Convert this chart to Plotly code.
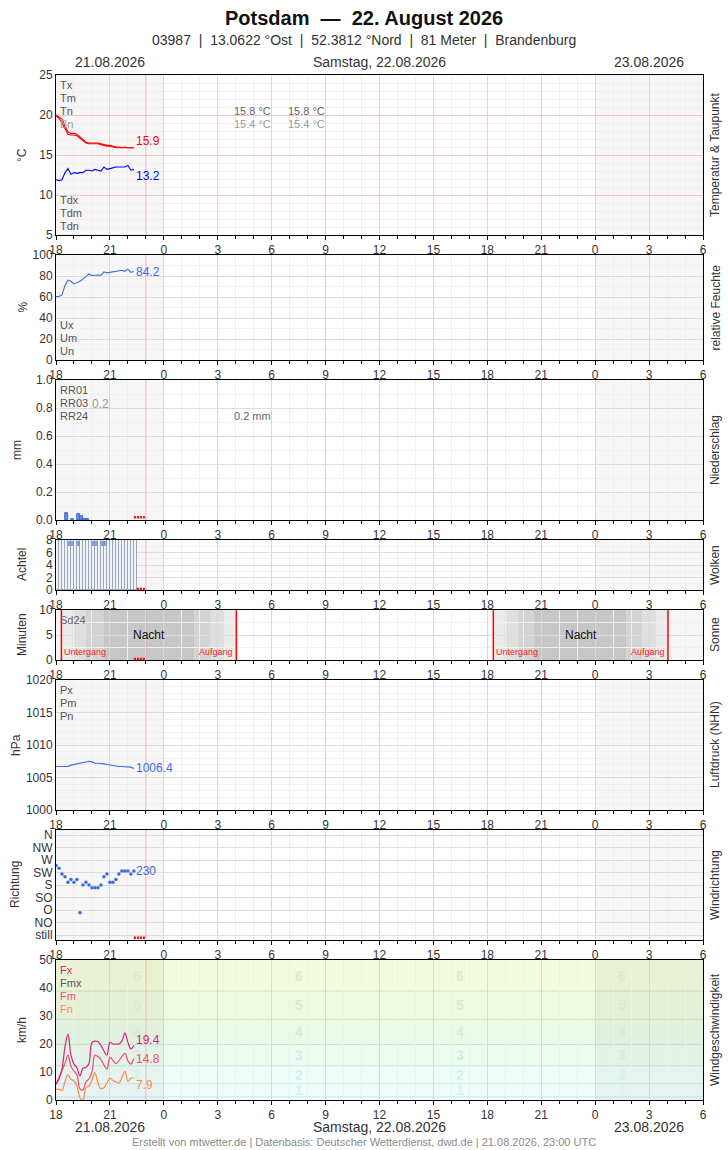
import plotly.graph_objects as go
import pandas as pd

# ------------------------------------------------------------------ data
obs_start = "2026-08-21 18:00"
obs_times = pd.date_range(obs_start, periods=27, freq="10min")

temp_a = [20.0, 19.8, 19.5, 18.6, 17.9, 17.7, 17.7, 17.6, 17.3, 16.9, 16.6, 16.5, 16.5, 16.5,
          16.5, 16.4, 16.3, 16.2, 16.2, 16.1, 16.0, 16.0, 15.9, 16.0, 15.9, 15.9, 15.9]
temp_b = [19.9, 19.6, 19.0, 18.2, 17.6, 17.5, 17.5, 17.4, 17.1, 16.7, 16.5, 16.4, 16.4, 16.4,
          16.4, 16.3, 16.2, 16.1, 16.1, 16.0, 15.9, 15.9, 15.9, 15.9, 15.9, 15.9, 15.9]
dewpoint = [11.9, 11.8, 11.9, 12.8, 13.3, 12.6, 12.8, 12.7, 12.8, 12.8, 13.1, 13.1, 13.0, 13.2,
            13.1, 13.0, 13.5, 13.2, 13.3, 13.4, 13.5, 13.5, 13.5, 13.5, 13.7, 13.1, 13.2]
humidity = [60.5, 60.5, 62.0, 71.0, 76.0, 75.0, 72.5, 73.5, 75.0, 77.0, 80.0, 82.0, 80.5, 81.0,
            81.0, 80.5, 84.0, 83.0, 83.5, 84.5, 85.0, 85.5, 85.5, 84.5, 86.5, 83.5, 84.2]
rain_times = ["2026-08-21 18:30", "2026-08-21 18:50", "2026-08-21 19:10",
              "2026-08-21 19:20", "2026-08-21 19:30", "2026-08-21 19:40"]
rain_mm = [0.05, 0.01, 0.04, 0.03, 0.01, 0.01]
cloud_oktas = [8, 8, 8, 8, 8, 8, 8, 8, 8, 8, 8, 8, 8, 8, 8, 8, 8, 8, 8, 8, 8, 8, 8, 8, 8, 8, 8]
wx_times = ["2026-08-21 18:40", "2026-08-21 18:50", "2026-08-21 19:10", "2026-08-21 20:00",
            "2026-08-21 20:10", "2026-08-21 20:30", "2026-08-21 20:40"]
wx_base = [7.0, 7.0, 7.0, 7.0, 7.0, 7.0, 7.0]
wx_height = [0.8, 0.8, 0.8, 0.8, 0.8, 0.8, 0.8]
pressure = [1006.7, 1006.7, 1006.7, 1006.8, 1006.7, 1006.9, 1007.0, 1007.1, 1007.2, 1007.3,
            1007.4, 1007.5, 1007.4, 1007.2, 1007.2, 1007.2, 1007.1, 1007.0, 1006.9, 1006.8,
            1006.7, 1006.7, 1006.7, 1006.7, 1006.7, 1006.6, 1006.4]
wind_dir = [250, 240, 220, 210, 190, 200, 190, 200, 80, 180, 190, 180, 170, 170,
            170, 180, 210, 220, 190, 190, 200, 220, 230, 230, 230, 220, 230]
gust_fx = [5.6, 7.5, 11.0, 19.0, 23.5, 16.0, 12.8, 11.5, 8.6, 11.4, 11.6, 13.0, 20.5, 21.0,
           20.8, 19.5, 17.5, 16.0, 20.6, 20.0, 20.0, 20.0, 21.0, 24.0, 20.6, 18.2, 19.4]
wind_fm = [5.6, 8.0, 10.5, 13.0, 16.0, 12.0, 10.4, 9.0, 4.0, 3.6, 6.5, 7.5, 10.0, 16.0,
           15.5, 14.5, 12.5, 11.0, 15.2, 14.2, 13.0, 14.0, 15.5, 16.7, 14.0, 12.8, 14.8]
wind_fn = [3.8, 3.8, 3.4, 6.5, 9.0, 7.4, 6.8, 5.0, 0.8, 0.0, 4.4, 5.0, 7.0, 9.8,
           6.0, 4.0, 4.4, 6.0, 7.8, 7.0, 6.5, 6.0, 8.0, 10.2, 6.6, 7.8, 7.9]

# sun / twilight: sunset, civil, nautical, astronomical dusk, astro/nautical/civil dawn, sunrise
night_1 = ["2026-08-21 18:18", "2026-08-21 18:53", "2026-08-21 19:40", "2026-08-21 20:38",
           "2026-08-22 01:43", "2026-08-22 02:37", "2026-08-22 03:22", "2026-08-22 04:02"]
night_2 = ["2026-08-22 18:20", "2026-08-22 18:56", "2026-08-22 19:43", "2026-08-22 20:36",
           "2026-08-23 01:45", "2026-08-23 02:38", "2026-08-23 03:25", "2026-08-23 04:03"]
twilight_colors = ["#ebebeb", "#dfdfdf", "#d3d3d3", "#c7c7c7", "#d3d3d3", "#dfdfdf", "#ebebeb"]

x_range = ["2026-08-21 18:00", "2026-08-23 06:00"]
shaded_days = [("2026-08-21 18:00", "2026-08-22 00:00"), ("2026-08-23 00:00", "2026-08-23 06:00")]
now_time = "2026-08-21 23:00"
missing_start = "2026-08-21 22:20"
missing_end = "2026-08-21 23:00"

bft_edges = [0, 1.1, 5.8, 12.2, 19.8, 28.8, 38.9, 50]
bft_numbers = ["1", "2", "3", "4", "5", "6"]
bft_label_times = ["2026-08-21 22:30", "2026-08-22 07:30", "2026-08-22 16:30", "2026-08-23 01:30"]
bft_fill = ["#f0fafa", "#f0fcfc", "#effcf8", "#eefbf1", "#ebf9e7", "#eff9df", "#f3fbdc"]
bft_line = ["#c4eeee", "#c4eeee", "#bfeae2", "#c2e8cc", "#cce8c2", "#d5e6c0"]
bft_digit = ["#d6f3f3", "#d3f1ee", "#d1efe2", "#d3eed3", "#dbebcc", "#e0eacb"]

dir_ticks = [0, 45, 90, 135, 180, 225, 270, 315, 360]
dir_labels = ["still", "NO", "O", "SO", "S", "SW", "W", "NW", "N"]

# ------------------------------------------------------------------ layout helpers
W, H = 728, 1150
ML, MR, MT, MB = 56, 25, 75, 50
PW = W - ML - MR
PH = H - MT - MB


def px(x):
    return (x - ML) / PW


def py(y):
    return (H - MB - y) / PH


panels = [(75, 235), (255, 360), (380, 520), (540, 590), (610, 660), (680, 810), (830, 940), (960, 1100)]


def xn(i):
    return "x" if i == 1 else f"x{i}"


def yn(i):
    return "y" if i == 1 else f"y{i}"


FONT = "Liberation Sans, Arial, sans-serif"
TXT = "#333333"
fig = go.Figure()
layout = dict(
    width=W, height=H, margin=dict(l=ML, r=MR, t=MT, b=MB),
    paper_bgcolor="white", plot_bgcolor="white", showlegend=False,
    font=dict(family=FONT, size=12, color=TXT), bargap=0,
)

yspecs = [
    dict(range=[5, 25], dtick=5, minor=1, grid="#f4c6c6", mgrid="#f6ecec"),
    dict(range=[0, 100], dtick=20, minor=10, grid="#dddddd", mgrid="#f0f0f0"),
    dict(range=[0, 1.0], dtick=0.2, minor=0.1, grid="#dddddd", mgrid="#f0f0f0", fmt=".1f"),
    dict(range=[0, 8], dtick=2, minor=1, grid="#dddddd", mgrid="#f0f0f0"),
    dict(range=[0, 10], dtick=5, minor=2.5, grid="#dddddd", mgrid="#f0f0f0"),
    dict(range=[1000, 1020], dtick=5, minor=1, grid="#dddddd", mgrid="#f0f0f0"),
    dict(range=[-18, 378], grid="#dddddd"),
    dict(range=[0, 50], dtick=10, grid=None),
]

for i, (top, bot) in enumerate(panels, start=1):
    sfx = "" if i == 1 else str(i)
    layout[f"xaxis{sfx}"] = dict(
        domain=[0, 1], anchor=yn(i), type="date", range=x_range,
        tick0=obs_start, dtick=3 * 3600000, tickformat="%-H",
        ticks="outside", ticklen=4, tickcolor="#000", tickwidth=1,
        showgrid=True, gridcolor="#d8d8d8", gridwidth=1,
        minor=dict(dtick=3600000, ticks="outside", ticklen=3, tickcolor="#000",
                   showgrid=True, gridcolor="#efefef"),
        showline=True, linecolor="#000", linewidth=1, mirror=True,
        tickfont=dict(size=12, color=TXT), zeroline=False, fixedrange=True,
    )
    s = yspecs[i - 1]
    ya = dict(domain=[py(bot), py(top)], anchor=xn(i), range=s["range"],
              showline=True, linecolor="#000", linewidth=1, mirror=True,
              ticks="", tickfont=dict(size=12, color=TXT), zeroline=False,
              fixedrange=True)
    if i == 7:
        ya.update(tickmode="array", tickvals=dir_ticks, ticktext=dir_labels,
                  showgrid=True, gridcolor=s["grid"])
    elif s["grid"] is None:
        ya.update(dtick=s["dtick"], tick0=0, showgrid=False)
    else:
        ya.update(dtick=s["dtick"], tick0=s["range"][0], showgrid=True, gridcolor=s["grid"],
                  minor=dict(dtick=s["minor"], showgrid=True, gridcolor=s["mgrid"]))
    if "fmt" in s:
        ya["tickformat"] = s["fmt"]
    layout[f"yaxis{sfx}"] = ya

shapes = []
annotations = []

# wind Beaufort bands (panel 8) first
for k in range(len(bft_fill)):
    shapes.append(dict(type="rect", xref="x8 domain", yref="y8", x0=0, x1=1,
                       y0=bft_edges[k], y1=bft_edges[k + 1], fillcolor=bft_fill[k],
                       line=dict(width=0), layer="below"))
for k in range(len(bft_line)):
    shapes.append(dict(type="line", xref="x8 domain", yref="y8", x0=0, x1=1,
                       y0=bft_edges[k + 1], y1=bft_edges[k + 1],
                       line=dict(color=bft_line[k], width=1), layer="below"))

# day shading
for i in range(1, 9):
    for d0, d1 in shaded_days:
        shapes.append(dict(type="rect", xref=xn(i), yref=f"{yn(i)} domain", x0=d0, x1=d1,
                           y0=0, y1=1, fillcolor="rgba(0,0,0,0.035)", line=dict(width=0),
                           layer="below"))

# night / twilight in sun panel
for night in (night_1, night_2):
    for k in range(len(twilight_colors)):
        shapes.append(dict(type="rect", xref="x5", yref="y5 domain", x0=night[k], x1=night[k + 1],
                           y0=0, y1=1, fillcolor=twilight_colors[k], line=dict(width=0),
                           layer="below"))
    for tt in (night[0], night[-1]):
        shapes.append(dict(type="line", xref="x5", yref="y5 domain", x0=tt, x1=tt, y0=0, y1=1,
                           line=dict(color="#ff0000", width=1.5), layer="above"))
    mid = pd.Timestamp(night[0]) + (pd.Timestamp(night[-1]) - pd.Timestamp(night[0])) / 2
    annotations.append(dict(x=mid, y=0.5, xref="x5", yref="y5 domain", text="Nacht",
                            showarrow=False, font=dict(size=12, color="#111")))
    annotations.append(dict(x=night[0], y=0, xref="x5", yref="y5 domain", text="Untergang",
                            showarrow=False, xanchor="left", yanchor="bottom", xshift=1, yshift=1,
                            font=dict(size=9, color="#ff2020")))
    annotations.append(dict(x=night[-1], y=0, xref="x5", yref="y5 domain", text="Aufgang",
                            showarrow=False, xanchor="right", yanchor="bottom", xshift=-1, yshift=1,
                            font=dict(size=9, color="#ff2020")))

# now line
for i in range(1, 9):
    shapes.append(dict(type="line", xref=xn(i), yref=f"{yn(i)} domain", x0=now_time, x1=now_time,
                       y0=0, y1=1, line=dict(color="rgba(240,110,110,0.4)", width=1),
                       layer="above"))

# missing-data markers (clouds: only after the last cloud bar)
cloud_end = obs_times[-1] + pd.Timedelta(minutes=10)
for i in (3, 4, 5, 7):
    x0 = cloud_end if i == 4 else missing_start
    shapes.append(dict(type="line", xref=xn(i), yref=f"{yn(i)} domain", x0=x0,
                       x1=missing_end, y0=0.02, y1=0.02,
                       line=dict(color="#ff0000", width=2.5, dash="2px,1px"),
                       layer="above"))

# ------------------------------------------------------------------ traces
fig.add_trace(go.Scatter(x=obs_times, y=temp_a, mode="lines", line=dict(color="#ff0000", width=1.1),
                         xaxis="x", yaxis="y"))
fig.add_trace(go.Scatter(x=obs_times, y=temp_b, mode="lines", line=dict(color="#ff0000", width=1.1),
                         xaxis="x", yaxis="y"))
fig.add_trace(go.Scatter(x=obs_times, y=dewpoint, mode="lines", line=dict(color="#0000ff", width=1.1),
                         xaxis="x", yaxis="y"))
fig.add_trace(go.Scatter(x=obs_times, y=humidity, mode="lines", line=dict(color="#4169e1", width=1.1),
                         xaxis="x2", yaxis="y2"))
fig.add_trace(go.Bar(x=pd.to_datetime(rain_times), y=rain_mm, width=600000, offset=0,
                     marker=dict(color="#5b8cef", line=dict(color="#2f5fd0", width=0.8)),
                     xaxis="x3", yaxis="y3"))
fig.add_trace(go.Bar(x=obs_times, y=cloud_oktas, width=600000, offset=0,
                     marker=dict(color="#f2f4f8", line=dict(color="#9aa6ba", width=1)),
                     xaxis="x4", yaxis="y4"))
fig.add_trace(go.Bar(x=pd.to_datetime(wx_times), y=wx_height, base=wx_base, width=600000, offset=0,
                     marker=dict(color="#7f9fe0", line=dict(color="#7f9fe0", width=0)),
                     xaxis="x4", yaxis="y4"))
fig.add_trace(go.Scatter(x=obs_times, y=pressure, mode="lines", line=dict(color="#4169e1", width=1.1),
                         xaxis="x6", yaxis="y6"))
fig.add_trace(go.Scatter(x=obs_times, y=wind_dir, mode="markers",
                         marker=dict(color="#4169e1", size=3.5), xaxis="x7", yaxis="y7"))
fig.add_trace(go.Scatter(x=obs_times, y=wind_fn, mode="lines", line=dict(color="#ff8a4c", width=1.2),
                         line_shape="spline", xaxis="x8", yaxis="y8"))
fig.add_trace(go.Scatter(x=obs_times, y=wind_fm, mode="lines", line=dict(color="#ec4f6e", width=1.2),
                         line_shape="spline", xaxis="x8", yaxis="y8"))
fig.add_trace(go.Scatter(x=obs_times, y=gust_fx, mode="lines", line=dict(color="#d6237f", width=1.2),
                         line_shape="spline", xaxis="x8", yaxis="y8"))

# ------------------------------------------------------------------ annotations
def ptxt(x, y, text, color="#555", size=11, xanchor="left", **kw):
    d = dict(x=px(x), y=py(y), xref="paper", yref="paper", text=text, showarrow=False,
             xanchor=xanchor, yanchor="middle", font=dict(size=size, color=color))
    d.update(kw)
    annotations.append(d)


# titles
ptxt(364, 18, "<b>Potsdam\u00a0\u00a0—\u00a0\u00a022. August 2026</b>", color="#111", size=20, xanchor="center")
ptxt(364, 40, "03987\u00a0\u00a0|\u00a0\u00a013.0622 °Ost\u00a0\u00a0|\u00a0\u00a052.3812 °Nord\u00a0\u00a0|"
              "\u00a0\u00a081 Meter\u00a0\u00a0|\u00a0\u00a0Brandenburg", color=TXT, size=14, xanchor="center")
for yy in (62, 1127):
    annotations.append(dict(x="2026-08-21 21:00", y=py(yy), xref="x", yref="paper", text="21.08.2026",
                            showarrow=False, font=dict(size=14, color=TXT), yanchor="middle"))
    annotations.append(dict(x="2026-08-22 12:00", y=py(yy), xref="x", yref="paper",
                            text="Samstag, 22.08.2026", showarrow=False,
                            font=dict(size=14, color=TXT), yanchor="middle"))
    annotations.append(dict(x="2026-08-23 03:00", y=py(yy), xref="x", yref="paper", text="23.08.2026",
                            showarrow=False, font=dict(size=14, color=TXT), yanchor="middle"))
ptxt(364, 1142, "Erstellt von mtwetter.de | Datenbasis: Deutscher Wetterdienst, dwd.de | 21.08.2026, 23:00 UTC",
     color="#8a8a8a", size=11, xanchor="center")

# y titles (left) and panel names (right)
ytitles = ["°C", "%", "mm", "Achtel", "Minuten", "hPa", "Richtung", "km/h"]
ytitle_x = [22, 22, 17, 22, 22, 16, 15, 22]
rtitles = ["Temperatur & Taupunkt", "relative Feuchte", "Niederschlag", "Wolken", "Sonne",
           "Luftdruck (NHN)", "Windrichtung", "Windgeschwindigkeit"]
for i, (top, bot) in enumerate(panels):
    ptxt(ytitle_x[i], (top + bot) / 2, ytitles[i], color=TXT, size=12, xanchor="center", textangle=-90)
    ptxt(715, (top + bot) / 2, rtitles[i], color=TXT, size=12, xanchor="center", textangle=-90)

# legend-like texts
for yy, t in zip((85, 98, 111), ("Tx", "Tm", "Tn")):
    ptxt(58, yy, t)
ptxt(58, 124, "Bn", color="#9a9a9a")
ptxt(232, 111, "15.8 °C", color="#666")
ptxt(286, 111, "15.8 °C", color="#666")
ptxt(232, 124, "15.4 °C", color="#999")
ptxt(286, 124, "15.4 °C", color="#999")
for yy, t in zip((200, 213, 226), ("Tdx", "Tdm", "Tdn")):
    ptxt(58, yy, t)
for yy, t in zip((325, 338, 351), ("Ux", "Um", "Un")):
    ptxt(58, yy, t)
for yy, t in zip((390, 403, 416), ("RR01", "RR03", "RR24")):
    ptxt(58, yy, t)
ptxt(90, 404, "0.2", color="#999", size=12)
ptxt(232, 416, "0.2 mm", color="#666")
ptxt(58, 620, "Sd24", color="#666")
for yy, t in zip((690, 703, 716), ("Px", "Pm", "Pn")):
    ptxt(58, yy, t)
ptxt(58, 970, "Fx", color="#d6237f")
ptxt(58, 983, "Fmx", color="#555")
ptxt(58, 996, "Fm", color="#ec4f6e")
ptxt(58, 1009, "Fn", color="#ff8a4c")

# Beaufort digits
for k, num in enumerate(bft_numbers):
    ymid = (bft_edges[k + 1] + bft_edges[k + 2]) / 2
    for tt in bft_label_times:
        annotations.append(dict(x=tt, y=ymid, xref="x8", yref="y8", text=f"<b>{num}</b>",
                                showarrow=False, font=dict(size=14, color=bft_digit[k])))


# last-value labels
def endlab(xa, ya, val, fmt, color, yshift=0):
    annotations.append(dict(x=obs_times[-1], y=val, xref=xa, yref=ya, text=format(val, fmt),
                            showarrow=False, xanchor="left", xshift=0, yshift=yshift,
                            font=dict(size=12, color=color)))


endlab("x", "y", temp_a[-1], ".1f", "#ff0000", 7)
endlab("x", "y", dewpoint[-1], ".1f", "#0000ff", -7)
endlab("x2", "y2", humidity[-1], ".1f", "#4169e1")
endlab("x6", "y6", pressure[-1], ".1f", "#4169e1")
endlab("x7", "y7", wind_dir[-1], "d", "#4169e1")
endlab("x8", "y8", gust_fx[-1], ".1f", "#d6237f", 6)
endlab("x8", "y8", wind_fm[-1], ".1f", "#ec4f6e")
endlab("x8", "y8", wind_fn[-1], ".1f", "#ff8a4c", -7)

layout["shapes"] = shapes
layout["annotations"] = annotations
fig.update_layout(**layout)
fig.write_html("out.html", config={"displayModeBar": False},
               post_script="document.body.style.margin='0px';")
